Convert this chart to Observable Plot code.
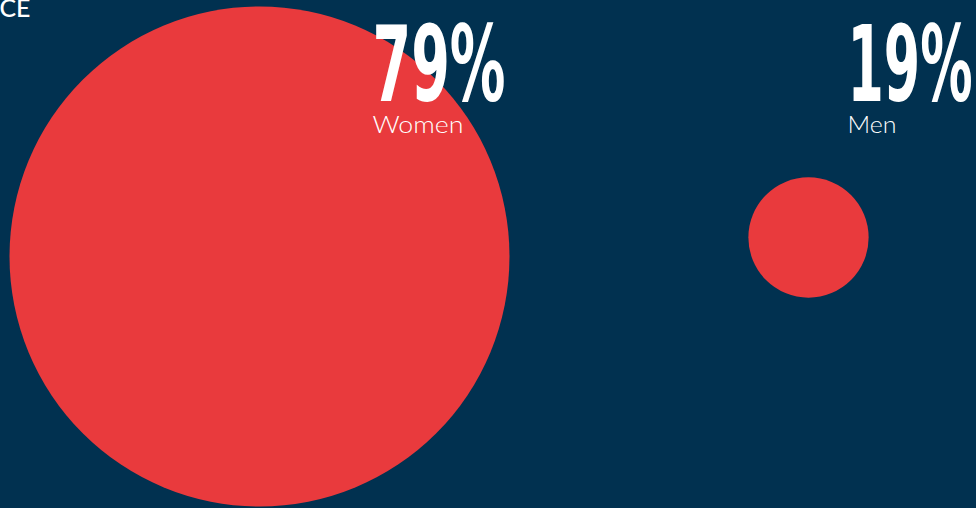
<!DOCTYPE html>
<html>
<head>
<meta charset="utf-8">
<script src="https://cdn.jsdelivr.net/npm/d3@7"></script>
<script src="https://cdn.jsdelivr.net/npm/@observablehq/plot@0.6"></script>
<style>
  html, body { margin: 0; padding: 0; background: #013150; overflow: hidden; }
  #chart svg { display: block; }
</style>
</head>
<body>
<div id="chart"></div>
<script>
const categories = ["Women", "Men"];
const values = [79, 19];
const valueLabels = ["79%", "19%"];
const headerText = "CE";

const data = categories.map((c, i) => ({category: c, value: values[i], label: valueLabels[i]}));

const RED = "#E93A3D";
const BG = "#013150";

function labelMarks(cat, dx) {
  const rows = data.filter(d => d.category === cat);
  return [
    Plot.text(rows, {x: "category", text: "label", frameAnchor: "top", dx, dy: 100, lineAnchor: "bottom",
      textAnchor: "start", fill: "white", fontSize: 106, fontWeight: 700,
      fontFamily: "'Liberation Sans Narrow', 'DejaVu Sans Condensed', sans-serif"}),
    Plot.text(rows, {x: "category", text: "category", frameAnchor: "top", dx, dy: 132, lineAnchor: "bottom",
      textAnchor: "start", fill: "white", fontSize: 24, fontWeight: 300,
      fontFamily: "Lato, 'Open Sans', sans-serif"})
  ];
}

const chart = Plot.plot({
  width: 976,
  height: 508,
  margin: 0,
  style: {background: BG, overflow: "visible"},
  x: {type: "point", domain: categories, range: [259, 808], padding: 0, axis: null},
  y: {type: "linear", domain: [19, 79], range: [237, 256], axis: null},
  r: {type: "linear", domain: [0, 79], range: [0, 250]},
  marks: [
    Plot.dot(data, {x: "category", y: "value", r: "value", fill: RED, stroke: null}),
    ...labelMarks("Women", 113),
    ...labelMarks("Men", 39),
    Plot.text([headerText], {text: d => d, frameAnchor: "top-left", dx: -1, dy: 16, lineAnchor: "bottom",
      textAnchor: "start", fill: "white", fontSize: 24, fontWeight: 500,
      fontFamily: "Lato, 'Open Sans', sans-serif"})
  ]
});
document.getElementById("chart").appendChild(chart);

// fit the condensed headline figures and labels to the reference widths
const widths = {"79%": 133, "19%": 125, "Women": 91, "Men": 49, "CE": 31};
d3.select(chart).selectAll("text").each(function() {
  const t = this.textContent;
  if (widths[t]) {
    this.setAttribute("textLength", widths[t]);
    this.setAttribute("lengthAdjust", "spacingAndGlyphs");
  }
});
</script>
</body>
</html>
